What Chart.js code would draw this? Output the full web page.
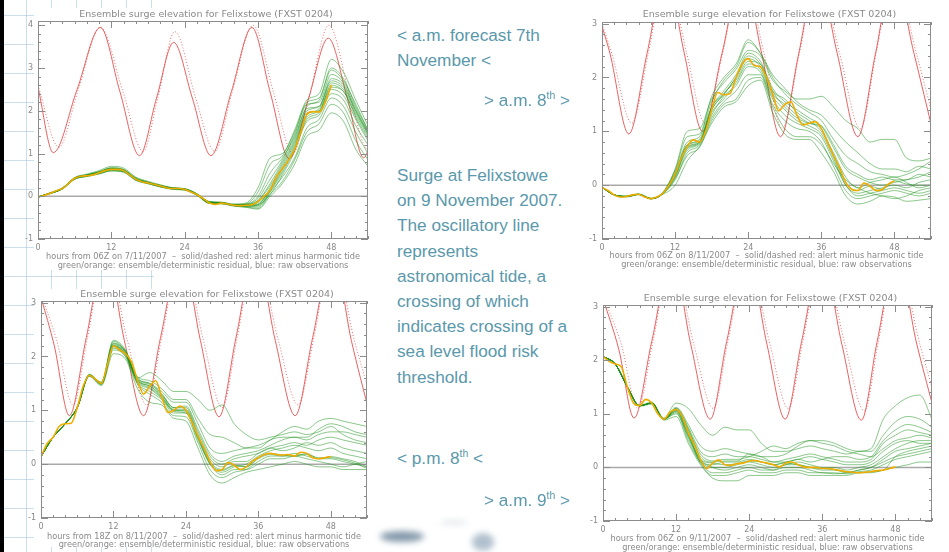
<!DOCTYPE html>
<html>
<head>
<meta charset="utf-8">
<script src="https://cdn.jsdelivr.net/npm/chart.js@4.4.1/dist/chart.umd.min.js"></script>
<style>
html, body { margin: 0; padding: 0; }
body {
    width: 949px; height: 552px; position: relative; overflow: hidden;
    background: #fff; font-family: "Liberation Sans", Arial, sans-serif;
}
.paper {
    position: absolute; left: 4px; top: 0; width: 150px; height: 552px;
    background-image:
        linear-gradient(to right, rgba(160,195,215,0.55) 1px, transparent 1px),
        linear-gradient(to bottom, rgba(160,195,215,0.55) 1px, transparent 1px);
    background-size: 25px 29px;
    background-position: 22px 15px;
}
.leftbar { position: absolute; left: 0; top: 0; width: 4px; height: 552px; background: #000; }
.sheet { position: absolute; background: #fff; }
canvas { position: absolute; }
.note { position: absolute; color: #5a98ab; font-size: 17.2px; line-height: 25.2px; white-space: nowrap; }
.note sup { font-size: 10.5px; line-height: 0; vertical-align: 7px; }
.blob { position: absolute; border-radius: 50%; filter: blur(3px); }
</style>
</head>
<body>
<div class="paper"></div>
<div class="leftbar"></div>
<div class="sheet" style="left:34px;top:8px;width:346px;height:262px"></div>
<div class="sheet" style="left:34px;top:289px;width:346px;height:258px"></div>

<canvas id="p1" width="380" height="275" style="left:0;top:0"></canvas>
<canvas id="p2" width="379" height="275" style="left:570px;top:0"></canvas>
<canvas id="p3" width="380" height="272" style="left:0;top:280px"></canvas>
<canvas id="p4" width="379" height="272" style="left:570px;top:280px"></canvas>

<div class="note" style="left:397px;top:23px">&lt; a.m. forecast 7th<br>November &lt;</div>
<div class="note" style="left:484px;top:88px">&gt; a.m. 8<sup>th</sup> &gt;</div>
<div class="note" style="left:397px;top:163px">Surge at Felixstowe<br>on 9 November 2007.<br>The oscillatory line<br>represents<br>astronomical tide, a<br>crossing of which<br>indicates crossing of a<br>sea level flood risk<br>threshold.</div>
<div class="note" style="left:397px;top:446px">&lt; p.m. 8<sup>th</sup> &lt;</div>
<div class="note" style="left:484px;top:488px">&gt; a.m. 9<sup>th</sup> &gt;</div>

<div class="blob" style="left:380px;top:531px;width:44px;height:11px;background:rgba(50,85,115,0.6)"></div>
<div class="blob" style="left:472px;top:533px;width:22px;height:18px;background:rgba(80,115,145,0.45)"></div>
<div class="blob" style="left:440px;top:521px;width:28px;height:3px;background:rgba(120,140,160,0.35)"></div>

<script>
// ── Shared axes ──────────────────────────────────────────────
const xTicks = [0, 12, 24, 36, 48];
const memberHours = [0,2,4,6,8,10,12,14,16,18,20,22,24,26,28,30,32,34,36,38,40,42,44,46,48,50,52,54];
const detHours = [0,1,2,3,4,5,6,7,8,9,10,11,12,13,14,15,16,17,18,19,20,21,22,23,24,
                  25,26,27,28,29,30,31,32,33,34,35,36,37,38,39,40,41,42,43,44,45,46,47,48];
const zeroHours = [0, 54];
const zeroLine  = [0, 0];

// ── Panel 1: 06Z 7/11/2007 ───────────────────────────────────
const p1YTicks    = [-1, 0, 1, 2, 3, 4];
const p1TideHours = [0,2.5,6.4,10.2,13.4,16.6,19.4,22.2,25.25,28.3,31.65,35.0,38.05,41.1,44.3,47.5,50.6,53.3,55];
const p1Tide      = [2.55,1.02,2.5,3.95,2.45,0.95,2.3,3.6,2.3,0.95,2.45,3.95,2.4,0.88,2.3,3.7,2.3,0.9,1.6];
const p1DotHours  = [0,3.4,6.6,10.2,13.9,17.2,19.6,22.4,25.8,28.9,31.8,35.2,38.6,41.7,44.4,47.6,51.1,54,55];
const p1TideDot   = [2.6,1.15,2.5,3.95,2.45,1.05,2.3,3.85,2.3,1.05,2.45,4.0,2.4,1.0,2.35,4.0,2.3,1.1,1.5];
const p1Det = [-0.02,0.02,0.07,0.13,0.18,0.3,0.42,0.47,0.48,0.5,0.55,0.6,0.63,0.63,0.6,0.5,0.4,0.34,0.31,0.28,
               0.24,0.2,0.18,0.18,0.16,0.1,0.04,-0.05,-0.15,-0.19,-0.16,-0.18,-0.21,-0.22,-0.21,-0.2,-0.12,0.0,
               0.15,0.45,0.65,0.85,1.1,1.5,1.92,1.98,1.97,2.2,2.6];
const p1Members = [
    [-0.02,0.08,0.2,0.43,0.5,0.58,0.66,0.62,0.42,0.33,0.25,0.2,0.17,0.05,-0.14,-0.15,-0.2,-0.2,-0.15,0.15,0.65,1.2,1.95,2.0,2.6,2.45,1.9,1.4],
    [-0.02,0.06,0.17,0.4,0.47,0.53,0.6,0.57,0.38,0.3,0.22,0.17,0.15,0.03,-0.16,-0.17,-0.22,-0.23,-0.2,0.05,0.5,1.05,1.8,1.95,2.5,2.35,1.8,1.3],
    [-0.02,0.07,0.19,0.44,0.52,0.6,0.7,0.66,0.45,0.35,0.27,0.2,0.18,0.06,-0.12,-0.14,-0.19,-0.19,-0.1,0.3,0.8,1.35,2.05,2.1,2.7,2.55,2.0,1.5],
    [-0.02,0.07,0.18,0.41,0.49,0.56,0.64,0.61,0.41,0.32,0.24,0.19,0.17,0.06,-0.13,-0.15,-0.2,-0.18,0.1,0.75,0.95,1.55,2.25,2.4,3.2,2.9,2.25,1.65],
    [-0.02,0.07,0.17,0.4,0.46,0.52,0.59,0.56,0.37,0.29,0.22,0.16,0.14,0.02,-0.17,-0.18,-0.23,-0.26,-0.3,0.0,0.3,0.75,1.4,1.55,1.95,1.75,1.1,0.7],
    [-0.02,0.08,0.19,0.42,0.48,0.55,0.62,0.59,0.4,0.31,0.23,0.18,0.16,0.04,-0.15,-0.16,-0.22,-0.24,-0.25,0.1,0.45,0.9,1.6,1.8,2.3,2.1,1.5,1.0],
    [-0.02,0.07,0.18,0.43,0.5,0.57,0.67,0.63,0.43,0.33,0.26,0.19,0.17,0.05,-0.13,-0.14,-0.18,-0.16,0.2,0.9,1.0,1.5,2.2,2.3,3.0,2.75,2.1,1.55],
    [-0.02,0.07,0.18,0.42,0.49,0.56,0.65,0.61,0.41,0.32,0.25,0.19,0.17,0.05,-0.14,-0.15,-0.2,-0.19,-0.05,0.4,0.85,1.45,2.15,2.2,2.85,2.65,2.05,1.5],
    [-0.02,0.06,0.18,0.41,0.48,0.54,0.62,0.59,0.39,0.31,0.23,0.18,0.16,0.04,-0.15,-0.16,-0.21,-0.22,-0.2,0.2,0.7,1.25,1.9,2.05,2.65,2.5,1.95,1.45],
    [-0.02,0.07,0.17,0.4,0.47,0.53,0.6,0.58,0.38,0.3,0.22,0.17,0.15,0.03,-0.16,-0.17,-0.22,-0.25,-0.28,0.05,0.35,0.85,1.5,1.7,2.15,1.95,1.3,0.85],
    [-0.02,0.07,0.19,0.43,0.5,0.57,0.65,0.62,0.42,0.32,0.25,0.19,0.17,0.05,-0.14,-0.15,-0.2,-0.2,-0.1,0.25,0.75,1.3,2.0,2.1,2.75,2.6,2.0,1.45],
    [-0.02,0.08,0.18,0.42,0.49,0.56,0.64,0.6,0.41,0.32,0.24,0.18,0.16,0.05,-0.14,-0.15,-0.2,-0.19,0.0,0.55,0.9,1.4,2.1,2.25,2.95,2.7,2.15,1.55],
    [-0.02,0.07,0.18,0.41,0.48,0.55,0.63,0.6,0.4,0.31,0.24,0.18,0.16,0.04,-0.15,-0.16,-0.21,-0.23,-0.22,0.12,0.55,1.1,1.75,1.9,2.4,2.25,1.65,1.2],
    [-0.02,0.07,0.18,0.42,0.48,0.55,0.63,0.6,0.4,0.31,0.24,0.18,0.16,0.04,-0.15,-0.16,-0.21,-0.21,-0.18,0.15,0.6,1.15,1.85,2.0,2.55,2.45,1.85,1.35]
];

// ── Panel 2: 06Z 8/11/2007 ───────────────────────────────────
const lowYTicks   = [-1, 0, 1, 2, 3];
const p2TideHours = [0,1.3,4.4,7.4,10.5,13.5,16.5,19.7,23.0,26.2,29.3,32.3,35.3,38.6,42.0,44.9,47.8,51.2,54.5];
const p2Tide      = [2.95,2.45,0.95,2.45,3.95,2.45,1.0,2.45,3.95,2.45,0.9,2.45,3.95,2.45,0.9,2.45,3.95,2.45,0.9];
const p2DotHours  = [0,1.6,4.9,7.6,10.5,13.9,16.9,19.8,23.0,26.6,29.6,32.4,35.3,39.0,42.4,45.0,47.8,51.6,54.8];
const p2TideDot   = [3.0,2.45,1.15,2.45,3.95,2.45,1.15,2.45,3.95,2.45,1.05,2.45,3.95,2.45,1.05,2.45,3.95,2.45,1.05];
const p2Det = [-0.04,-0.1,-0.18,-0.22,-0.21,-0.18,-0.17,-0.22,-0.25,-0.22,-0.15,0.0,0.2,0.5,0.72,0.84,0.8,1.0,1.4,1.72,
               1.68,1.7,2.0,2.25,2.35,2.22,2.2,2.0,1.7,1.38,1.5,1.55,1.3,1.12,1.15,1.18,1.05,0.8,0.55,0.32,
               0.05,-0.08,-0.1,0.04,-0.02,-0.1,-0.08,0.02,0.08];
const p2Members = [
    [-0.04,-0.18,-0.21,-0.17,-0.25,-0.15,0.2,0.72,0.8,1.4,1.68,2.0,2.35,2.2,1.7,1.5,1.3,1.15,1.05,0.55,0.05,-0.1,-0.02,-0.08,0.08,0.02,0.0,0.0],
    [-0.04,-0.18,-0.2,-0.16,-0.24,-0.13,0.3,1.0,1.05,1.6,1.9,2.15,2.5,2.4,1.95,1.75,1.6,1.6,1.65,1.45,1.2,1.05,0.8,0.85,0.85,0.5,0.45,0.5],
    [-0.04,-0.19,-0.22,-0.18,-0.26,-0.17,0.0,0.45,0.72,1.15,1.45,1.55,1.85,1.95,1.35,0.95,0.85,0.85,0.6,0.25,-0.2,-0.35,-0.3,-0.2,-0.22,-0.3,-0.28,-0.25],
    [-0.04,-0.18,-0.21,-0.17,-0.25,-0.14,0.25,0.8,0.9,1.55,1.95,2.2,2.65,2.45,2.0,1.7,1.5,1.35,1.2,0.85,0.55,0.4,0.25,0.2,0.15,0.2,0.3,0.45],
    [-0.04,-0.18,-0.21,-0.17,-0.25,-0.16,0.1,0.6,0.75,1.25,1.55,1.75,2.05,2.05,1.5,1.2,1.05,1.0,0.8,0.35,-0.1,-0.25,-0.2,-0.15,-0.1,-0.15,-0.2,-0.15],
    [-0.04,-0.18,-0.21,-0.17,-0.25,-0.15,0.22,0.75,0.85,1.45,1.75,2.05,2.45,2.3,1.8,1.55,1.4,1.25,1.1,0.7,0.3,0.15,0.05,0.0,0.05,0.1,0.15,0.25],
    [-0.04,-0.18,-0.21,-0.17,-0.25,-0.15,0.15,0.65,0.78,1.35,1.6,1.9,2.25,2.15,1.65,1.4,1.2,1.1,0.95,0.5,0.0,-0.15,-0.1,-0.05,0.0,-0.05,0.05,0.1],
    [-0.04,-0.18,-0.21,-0.17,-0.25,-0.15,0.28,0.9,0.95,1.65,2.0,2.25,2.7,2.45,2.05,1.8,1.55,1.4,1.3,1.05,0.8,0.6,0.4,0.3,0.3,0.25,0.35,0.3],
    [-0.04,-0.18,-0.21,-0.17,-0.25,-0.16,0.12,0.55,0.7,1.2,1.5,1.6,1.95,2.0,1.45,1.05,0.9,0.9,0.75,0.4,0.1,-0.05,-0.15,-0.2,-0.25,-0.2,-0.1,-0.05],
    [-0.04,-0.18,-0.21,-0.17,-0.25,-0.15,0.18,0.7,0.8,1.4,1.7,1.95,2.3,2.25,1.75,1.6,1.35,1.2,1.0,0.6,0.15,-0.05,0.05,0.1,0.15,0.05,-0.05,0.0],
    [-0.04,-0.18,-0.21,-0.17,-0.25,-0.15,0.2,0.75,0.82,1.45,1.7,2.0,2.4,2.25,1.75,1.45,1.25,1.15,1.1,0.75,0.35,0.2,0.1,0.15,0.1,0.1,0.2,0.15],
    [-0.04,-0.18,-0.21,-0.17,-0.25,-0.15,0.16,0.68,0.78,1.3,1.65,1.85,2.2,2.1,1.6,1.3,1.15,1.05,0.9,0.45,0.0,-0.2,-0.15,-0.1,-0.05,-0.1,-0.15,-0.1]
];

// ── Panel 3: 18Z 8/11/2007 ───────────────────────────────────
const p3TideHours = [0,2.2,4.7,7.5,10.7,13.8,17.0,19.8,23.2,26.4,29.5,32.3,35.5,38.8,42.1,45.0,48.3,51.4,54.5];
const p3Tide      = [3.1,2.2,0.9,2.35,3.95,2.3,0.9,2.35,3.95,2.3,0.88,2.35,3.95,2.3,0.9,2.35,3.95,2.3,0.9];
const p3DotHours  = [0,2.6,5.3,7.7,10.7,14.3,17.5,20.0,23.2,26.9,30.0,32.5,35.5,39.3,42.6,45.2,48.3,51.9,55];
const p3TideDot   = [3.15,2.3,1.1,2.35,3.95,2.3,1.1,2.35,3.95,2.3,1.05,2.35,3.95,2.3,1.1,2.35,3.95,2.3,1.1];
const p3Det = [0.14,0.38,0.5,0.7,0.75,0.76,1.05,1.45,1.65,1.58,1.5,1.85,2.2,2.12,2.05,1.9,1.55,1.3,1.45,1.55,
               1.25,0.96,1.0,1.08,1.0,0.78,0.52,0.3,0.05,-0.12,-0.1,0.03,-0.02,-0.1,-0.05,0.05,0.12,0.18,0.2,0.18,
               0.17,0.18,0.15,0.22,0.2,0.12,0.1,0.12,0.14];
const p3Members = [
    [0.14,0.5,0.75,1.05,1.65,1.5,2.2,2.05,1.55,1.45,1.25,1.0,1.0,0.52,0.05,-0.1,-0.02,-0.05,0.12,0.2,0.17,0.15,0.2,0.1,0.14,0.1,0.05,-0.05],
    [0.14,0.5,0.75,1.06,1.67,1.52,2.3,2.12,1.6,1.7,1.55,1.35,1.35,1.2,1.0,1.1,0.75,0.55,0.45,0.5,0.55,0.6,0.55,0.6,0.7,0.55,0.45,0.4],
    [0.14,0.5,0.75,1.04,1.63,1.46,2.05,1.95,1.4,1.15,1.1,0.85,0.8,0.3,-0.2,-0.35,-0.25,-0.15,-0.1,-0.05,0.0,0.05,0.0,-0.05,-0.05,-0.1,-0.1,-0.1],
    [0.14,0.5,0.75,1.05,1.66,1.5,2.25,2.1,1.6,1.5,1.35,1.15,1.15,0.75,0.3,0.2,0.25,0.3,0.35,0.45,0.6,0.7,0.65,0.8,0.85,0.8,0.75,0.7],
    [0.14,0.5,0.75,1.05,1.64,1.48,2.15,2.0,1.5,1.35,1.2,0.95,0.95,0.45,0.0,-0.2,-0.1,-0.1,0.0,0.1,0.1,0.15,0.1,0.05,0.0,-0.05,0.0,0.05],
    [0.14,0.5,0.75,1.05,1.65,1.5,2.22,2.08,1.58,1.5,1.3,1.05,1.05,0.6,0.15,0.0,0.1,0.15,0.2,0.3,0.35,0.4,0.35,0.45,0.5,0.45,0.4,0.35],
    [0.14,0.5,0.75,1.05,1.65,1.5,2.18,2.03,1.52,1.4,1.22,0.98,0.95,0.48,0.0,-0.15,-0.05,0.0,0.15,0.25,0.3,0.35,0.3,0.25,0.3,0.2,0.15,0.1],
    [0.14,0.5,0.75,1.05,1.66,1.52,2.28,2.1,1.62,1.55,1.4,1.2,1.2,0.85,0.55,0.5,0.4,0.3,0.3,0.45,0.5,0.5,0.5,0.65,0.75,0.7,0.6,0.55],
    [0.14,0.5,0.75,1.05,1.64,1.48,2.12,2.0,1.48,1.3,1.15,0.9,0.88,0.4,-0.1,-0.25,-0.15,-0.1,0.05,0.15,0.15,0.2,0.15,0.1,0.1,0.05,0.0,-0.05],
    [0.14,0.5,0.75,1.05,1.65,1.5,2.2,2.06,1.56,1.45,1.28,1.02,1.02,0.55,0.1,-0.05,0.05,0.05,0.2,0.3,0.25,0.3,0.4,0.35,0.4,0.3,0.25,0.2],
    [0.14,0.5,0.75,1.05,1.65,1.5,2.24,2.08,1.57,1.48,1.3,1.05,1.08,0.65,0.2,0.05,0.15,0.2,0.25,0.35,0.45,0.5,0.45,0.55,0.6,0.6,0.55,0.5],
    [0.14,0.5,0.75,1.05,1.65,1.5,2.18,2.04,1.54,1.42,1.24,1.0,0.98,0.5,0.02,-0.12,-0.03,-0.05,0.1,0.18,0.15,0.15,0.18,0.12,0.12,0.08,0.02,-0.08]
];

// ── Panel 4: 06Z 9/11/2007 ───────────────────────────────────
const p4TideHours = [0,2.6,5.1,8.0,11.3,14.4,17.6,20.3,23.7,26.9,29.9,32.6,35.9,39.2,42.4,45.0,48.2,51.5,54.7];
const p4Tide      = [3.15,2.2,0.92,2.35,3.95,2.3,0.9,2.35,3.95,2.3,0.9,2.35,3.95,2.3,0.88,2.35,3.95,2.3,0.9];
const p4DotHours  = [0,3.0,5.7,8.2,11.3,14.9,18.1,20.5,23.7,27.4,30.4,32.8,35.9,39.7,42.9,45.2,48.2,52.0,55];
const p4TideDot   = [3.2,2.3,1.1,2.35,3.95,2.3,1.1,2.35,3.95,2.3,1.1,2.35,3.95,2.3,1.05,2.35,3.95,2.3,1.1];
const p4Det = [2.07,1.98,1.93,1.88,1.5,1.2,1.15,1.27,1.2,1.0,0.9,1.03,1.08,0.95,0.65,0.42,0.15,-0.02,0.08,0.14,
               0.05,0.04,0.07,0.08,0.12,0.13,0.1,0.08,0.05,0.01,0.08,0.1,0.05,0.01,0.0,0.0,-0.02,-0.02,-0.04,-0.06,
               -0.08,-0.09,-0.1,-0.09,-0.08,-0.06,-0.05,-0.02,0.01];
const p4Members = [
    [2.07,1.93,1.5,1.15,1.2,0.9,1.08,0.65,0.15,0.08,0.05,0.07,0.12,0.1,0.05,0.08,0.05,0.0,-0.02,-0.04,-0.08,-0.1,-0.08,-0.05,0.2,0.3,0.35,0.4],
    [2.07,1.93,1.5,1.16,1.22,0.92,1.2,1.1,0.8,0.6,0.75,0.7,0.7,0.45,0.3,0.3,0.35,0.4,0.35,0.3,0.25,0.3,0.35,0.9,1.15,1.3,1.35,0.9],
    [2.07,1.93,1.5,1.14,1.18,0.88,0.95,0.45,0.05,-0.2,-0.25,-0.25,-0.15,-0.15,-0.15,-0.1,-0.1,-0.15,-0.15,-0.15,-0.15,-0.1,-0.1,-0.05,0.0,0.05,0.1,0.1],
    [2.07,1.93,1.5,1.15,1.2,0.9,1.12,0.8,0.4,0.3,0.35,0.3,0.25,0.2,0.2,0.25,0.4,0.5,0.5,0.45,0.35,0.3,0.3,0.6,0.85,0.95,0.9,0.75],
    [2.07,1.93,1.5,1.15,1.2,0.9,1.0,0.55,0.1,-0.1,-0.1,-0.05,0.0,-0.05,-0.05,0.0,0.0,-0.05,-0.1,-0.1,-0.12,-0.08,-0.05,0.05,0.15,0.2,0.25,0.3],
    [2.07,1.93,1.5,1.15,1.2,0.9,1.1,0.75,0.3,0.2,0.25,0.2,0.2,0.15,0.1,0.15,0.2,0.25,0.2,0.15,0.1,0.1,0.15,0.45,0.6,0.7,0.65,0.6],
    [2.07,1.93,1.5,1.15,1.2,0.9,1.05,0.6,0.12,0.0,0.0,0.05,0.1,0.05,0.0,0.05,0.1,0.05,0.0,0.0,-0.05,0.0,0.05,0.2,0.35,0.45,0.5,0.5],
    [2.07,1.93,1.5,1.15,1.2,0.9,1.08,0.7,0.25,0.12,0.15,0.15,0.2,0.3,0.4,0.35,0.45,0.5,0.45,0.4,0.3,0.25,0.2,0.35,0.5,0.55,0.6,0.55],
    [2.07,1.93,1.5,1.15,1.2,0.9,1.06,0.62,0.1,0.05,0.1,0.1,0.15,0.1,0.05,0.1,0.15,0.2,0.15,0.1,0.05,0.05,0.1,0.3,0.45,0.5,0.45,0.45],
    [2.07,1.93,1.5,1.15,1.2,0.9,1.02,0.5,0.08,-0.15,-0.15,-0.1,-0.05,-0.1,-0.1,-0.05,-0.05,-0.1,-0.1,-0.12,-0.1,-0.05,0.0,0.1,0.2,0.25,0.3,0.35],
    [2.07,1.93,1.5,1.15,1.2,0.9,1.1,0.72,0.2,0.1,0.12,0.12,0.25,0.2,0.1,0.1,0.15,0.1,0.15,0.2,0.2,0.15,0.2,0.5,0.7,0.8,0.75,0.65],
    [2.07,1.93,1.5,1.15,1.2,0.9,1.04,0.58,0.15,0.0,-0.05,0.0,0.05,0.0,-0.05,0.05,0.05,0.0,-0.05,-0.05,-0.1,-0.05,0.0,0.15,0.3,0.35,0.4,0.45]
];

const TITLE = 'Ensemble surge elevation for Felixstowe (FXST 0204)';
const CAPTION2 = 'green/orange: ensemble/deterministic residual, blue: raw observations';
const caption1 = start => `hours from ${start}  \u2013  solid/dashed red: alert minus harmonic tide`;

Chart.defaults.font.family = '"DejaVu Sans", sans-serif';
Chart.defaults.color = '#888';

const toXY = (xs, ys) => ys.map((y, i) => ({ x: xs[i], y }));

// ── IDL-style frame, inward ticks, title and caption ─────────
const idlFrame = {
    id: 'idlFrame',
    afterDraw(chart, args, o) {
        const { ctx, chartArea: a, scales: { x, y } } = chart;
        ctx.save();
        ctx.strokeStyle = '#8c8c8c';
        ctx.lineWidth = 1;
        ctx.strokeRect(a.left + 0.5, a.top + 0.5, a.right - a.left - 1, a.bottom - a.top - 1);
        ctx.beginPath();
        for (let h = 0; h <= x.max; h += 2) {
            const px = Math.round(x.getPixelForValue(h)) + 0.5;
            const len = h % 12 === 0 ? 7 : 3;
            ctx.moveTo(px, a.bottom); ctx.lineTo(px, a.bottom - len);
            ctx.moveTo(px, a.top);    ctx.lineTo(px, a.top + len);
        }
        for (let i = -5; i <= Math.floor(y.max * 5 + 1e-6); i++) {
            const py = Math.round(y.getPixelForValue(i / 5)) + 0.5;
            const len = i % 5 === 0 ? 7 : 3;
            ctx.moveTo(a.left, py);  ctx.lineTo(a.left + len, py);
            ctx.moveTo(a.right, py); ctx.lineTo(a.right - len, py);
        }
        ctx.stroke();

        const cx = (a.left + a.right) / 2;
        ctx.fillStyle = '#8a8a8a';
        ctx.textAlign = 'center';
        ctx.textBaseline = 'middle';
        ctx.font = '9.5px "DejaVu Sans"';
        ctx.fillText(o.title, cx + 3, o.titleY);
        ctx.font = '8.2px "DejaVu Sans"';
        ctx.fillText(o.cap1, cx, o.capY1);
        ctx.fillText(o.cap2, cx, o.capY2);
        ctx.restore();
    }
};

function makePanel(id, p) {
    const canvas = document.getElementById(id);
    const W = canvas.width, H = canvas.height;
    const line = (data, color, width, extra) => Object.assign({
        data, borderColor: color, borderWidth: width, pointRadius: 0,
        fill: false, cubicInterpolationMode: 'monotone'
    }, extra || {});

    const datasets = [line(toXY(detHours, p.det), '#f0ac00', 1.6)];
    p.members.forEach(m => datasets.push(line(toXY(memberHours, m), 'rgba(25,145,25,0.5)', 1)));
    datasets.push(line(toXY(p.tideHours, p.tide), 'rgba(228,70,70,0.85)', 1));
    datasets.push(line(toXY(p.dotHours, p.tideDot), 'rgba(228,90,90,0.85)', 1, { borderDash: [1, 2] }));
    datasets.push(line(toXY(zeroHours, zeroLine), '#a9a9a9', 1.5, { cubicInterpolationMode: 'default' }));

    return new Chart(canvas.getContext('2d'), {
        type: 'line',
        data: { datasets },
        options: {
            responsive: false,
            animation: false,
            events: [],
            layout: { padding: { left: 0, top: p.top, right: W - p.right, bottom: 0 } },
            plugins: {
                legend: { display: false },
                tooltip: { enabled: false },
                idlFrame: {
                    title: TITLE, titleY: p.titleY,
                    cap1: caption1(p.start), cap2: CAPTION2,
                    capY1: p.capY1, capY2: p.capY2
                }
            },
            scales: {
                x: {
                    type: 'linear', min: 0, max: 54,
                    grid: { display: false, drawTicks: false },
                    border: { display: false },
                    ticks: { padding: 4, autoSkip: false, maxRotation: 0,
                             font: { size: 8 }, color: '#888' },
                    afterBuildTicks: s => { s.ticks = xTicks.map(v => ({ value: v })); },
                    afterFit: s => { s.height = H - p.bottom; }
                },
                y: {
                    type: 'linear', min: -1, max: p.ymax,
                    grid: { display: false, drawTicks: false },
                    border: { display: false },
                    ticks: { padding: 5, autoSkip: false,
                             font: { size: 8 }, color: '#888' },
                    afterBuildTicks: s => { s.ticks = p.yTicks.map(v => ({ value: v })); },
                    afterFit: s => { s.width = p.left; }
                }
            }
        },
        plugins: [idlFrame]
    });
}

makePanel('p1', { start: '06Z on 7/11/2007', det: p1Det, members: p1Members, yTicks: p1YTicks,
    tideHours: p1TideHours, tide: p1Tide, dotHours: p1DotHours, tideDot: p1TideDot,
    left: 38, right: 368, top: 21, bottom: 239, ymax: 4.1, titleY: 15, capY1: 257, capY2: 266 });
makePanel('p2', { start: '06Z on 8/11/2007', det: p2Det, members: p2Members, yTicks: lowYTicks,
    tideHours: p2TideHours, tide: p2Tide, dotHours: p2DotHours, tideDot: p2TideDot,
    left: 32, right: 361, top: 22, bottom: 239, ymax: 3.03, titleY: 15, capY1: 256, capY2: 265 });
makePanel('p3', { start: '18Z on 8/11/2007', det: p3Det, members: p3Members, yTicks: lowYTicks,
    tideHours: p3TideHours, tide: p3Tide, dotHours: p3DotHours, tideDot: p3TideDot,
    left: 41, right: 367, top: 21, bottom: 238, ymax: 3.03, titleY: 15, capY1: 257, capY2: 265 });
makePanel('p4', { start: '06Z on 9/11/2007', det: p4Det, members: p4Members, yTicks: lowYTicks,
    tideHours: p4TideHours, tide: p4Tide, dotHours: p4DotHours, tideDot: p4TideDot,
    left: 33, right: 362, top: 25, bottom: 241, ymax: 3.03, titleY: 19, capY1: 259, capY2: 268 });
</script>
</body>
</html>
